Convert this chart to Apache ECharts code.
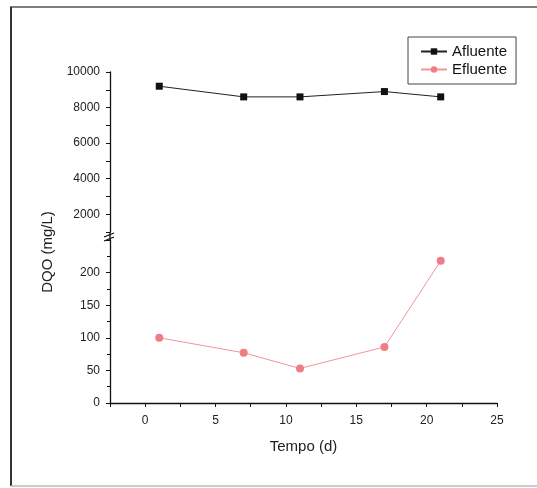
<!DOCTYPE html>
<html>
<head>
<meta charset="utf-8">
<script src="https://cdn.jsdelivr.net/npm/echarts@6/dist/echarts.min.js"></script>
<style>
html,body{margin:0;padding:0;background:#fff;}
#c{width:537px;height:488px;}
</style>
</head>
<body>
<div id="c"></div>
<script>
// ---- data ----
var days = [1, 7, 11, 17, 21];
var afluente = [9200, 8600, 8600, 8900, 8600];
var efluente = [100, 77, 53, 86, 218];
var seriesNames = ['Afluente', 'Efluente'];
var xTitle = 'Tempo (d)';
var yTitle = 'DQO (mg/L)';

// ---- layout ----
var L = 110, R = 40;
var upTop = 72, upH = 160;
var loTop = 240, loH = 163;
var W = 537, H = 488;
var font = '"Liberation Sans", Arial, sans-serif';

function pairs(xs, ys) { return xs.map(function (x, i) { return [x, ys[i]]; }); }

var chart = echarts.init(document.getElementById('c'), null, { renderer: 'canvas' });

var axisCommon = {
  axisLine: { show: true, onZero: false, lineStyle: { color: '#111', width: 1.3 } },
  axisTick: { show: true, inside: false, length: 4, lineStyle: { color: '#111' } },
  splitLine: { show: false },
  axisLabel: { color: '#222', fontSize: 12, fontFamily: font, margin: 10 }
};

var option = {
  animation: false,
  backgroundColor: '#fff',
  grid: [
    { left: L, right: R, top: upTop, height: upH },
    { left: L, right: R, top: loTop, height: loH }
  ],
  xAxis: [
    { type: 'value', gridIndex: 0, min: -2.5, max: 25, interval: 2.5, show: false },
    Object.assign({}, axisCommon, {
      type: 'value', gridIndex: 1, min: -2.5, max: 25, interval: 2.5,
      axisLabel: Object.assign({}, axisCommon.axisLabel, {
        margin: 12,
        formatter: function (v) { return (Math.abs(v % 5) < 1e-9) ? String(v) : ''; }
      }),
      name: xTitle, nameLocation: 'middle', nameGap: 36,
      nameTextStyle: { fontSize: 15, color: '#222', fontFamily: font }
    })
  ],
  yAxis: [
    Object.assign({}, axisCommon, {
      type: 'value', gridIndex: 0, min: 1000, max: 10000, interval: 1000,
      axisLabel: Object.assign({}, axisCommon.axisLabel, {
        formatter: function (v) { return (v % 2000 === 0) ? String(v) : ''; }
      })
    }),
    Object.assign({}, axisCommon, {
      type: 'value', gridIndex: 1, min: 0, max: 250, interval: 50,
      minorTick: { show: true, splitNumber: 2, length: 3, lineStyle: { color: '#111' } },
      axisLabel: Object.assign({}, axisCommon.axisLabel, {
        formatter: function (v) { return v === 250 ? '' : String(v); }
      })
    })
  ],
  legend: {
    orient: 'vertical', left: 408, top: 37,
    data: seriesNames,
    itemWidth: 26, itemHeight: 8, itemGap: 3,
    padding: [7, 9, 7, 12],
    borderColor: '#444', borderWidth: 1,
    textStyle: { fontSize: 15, color: '#111', fontFamily: font }
  },
  series: [
    {
      name: seriesNames[0], type: 'line', xAxisIndex: 0, yAxisIndex: 0,
      data: pairs(days, afluente),
      symbol: 'rect', symbolSize: 7,
      lineStyle: { color: '#222', width: 1 },
      itemStyle: { color: '#111' }
    },
    {
      name: seriesNames[1], type: 'line', xAxisIndex: 1, yAxisIndex: 1,
      data: pairs(days, efluente),
      symbol: 'circle', symbolSize: 8,
      lineStyle: { color: '#f3959b', width: 1 },
      itemStyle: { color: '#f07c84' }
    }
  ],
  graphic: [
    // y-axis title
    { type: 'text', x: 48, y: 252, rotation: Math.PI / 2,
      style: { text: yTitle, font: '15px ' + font, fill: '#222', align: 'center', verticalAlign: 'middle' } },
    // axis connection through the break
    { type: 'line', shape: { x1: L, y1: upTop + upH, x2: L, y2: loTop },
      style: { stroke: '#111', lineWidth: 1.3 } },
    // break marks
    { type: 'line', shape: { x1: L - 6, y1: upTop + upH + 5, x2: L + 4, y2: upTop + upH + 1 },
      style: { stroke: '#111', lineWidth: 1.2 } },
    { type: 'line', shape: { x1: L - 6, y1: loTop + 1, x2: L + 4, y2: loTop - 3 },
      style: { stroke: '#111', lineWidth: 1.2 } },
    // outer frame
    { type: 'line', shape: { x1: 10, y1: 7, x2: W, y2: 7 }, style: { stroke: '#555', lineWidth: 1.5 } },
    { type: 'line', shape: { x1: 11, y1: 7, x2: 11, y2: 486 }, style: { stroke: '#333', lineWidth: 2 } },
    { type: 'line', shape: { x1: 11, y1: 486, x2: W, y2: 486 }, style: { stroke: '#bbb', lineWidth: 1.5 } }
  ]
};

chart.setOption(option);
</script>
</body>
</html>
